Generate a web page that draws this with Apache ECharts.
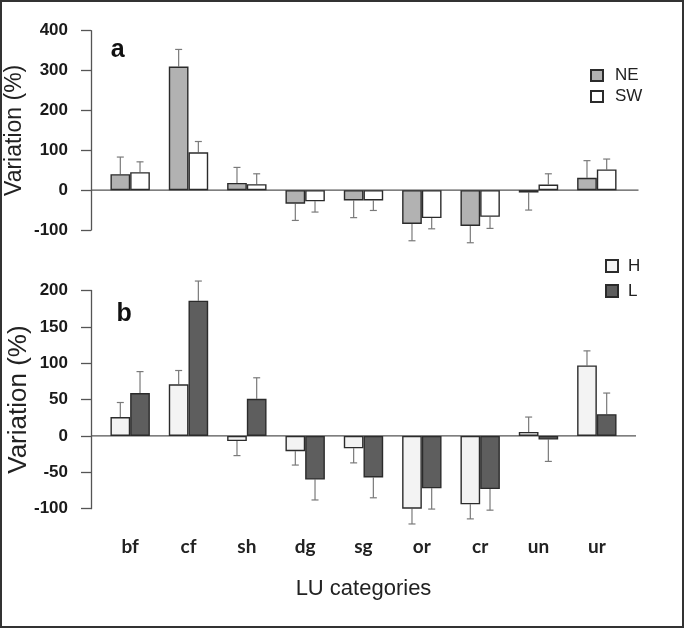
<!DOCTYPE html>
<html>
<head>
<meta charset="utf-8">
<script src="https://cdn.jsdelivr.net/npm/echarts@6/dist/echarts.min.js"></script>
<style>
html,body{margin:0;padding:0;background:#fff;}
#chart{width:685px;height:629px;}
</style>
</head>
<body>
<div id="chart"></div>
<script>
// ---- data ----
const categories = ['bf','cf','sh','dg','sg','or','cr','un','ur'];
// panel a
const neValues = [40, 310, 18, -34, -26, -85, -90, -6, 31];
const neErr    = [43, 43, 39, 42, 43, 42, 42, 44, 43];
const swValues = [45, 95, 15, -28, -26, -70, -67, 14, 52];
const swErr    = [26, 27, 26, 27, 25, 27, 29, 27, 26];
// panel b
const hValues  = [26, 71, -7, -21, -17, -100, -94, 5.5, 97];
const hErr     = [20, 19, 20, 19, 20, 21, 20, 20.5, 20];
const lValues  = [59, 186, 51, -60, -57, -72, -73, -5, 30];
const lErr     = [29.5, 27, 29, 28, 28, 28.5, 29, 30, 29];
const yTicksA = [-100, 400, 100];
const yTicksB = [-100, 200, 50];

const BAR_W = 19.7;
const FONT = "'Liberation Sans', Arial, sans-serif";

function errData(vals, errs){
  return vals.map((v,i)=>[i, v, v + (v < 0 ? -errs[i] : errs[i])]);
}
function errSeries(name, vals, errs, gridIdx, side){
  return {
    type:'custom', name: name+'_err', xAxisIndex:gridIdx, yAxisIndex:gridIdx,
    silent:true, z:1,
    data: errData(vals, errs),
    encode:{x:0, y:[1,2]},
    renderItem:function(params, api){
      const i = api.value(0);
      const p0 = api.coord([i, api.value(1)]);
      const p1 = api.coord([i, api.value(2)]);
      const x = p0[0] + side*BAR_W/2;
      const st = {stroke:'#7a7a7a', lineWidth:1.2};
      return {type:'group', children:[
        {type:'line', shape:{x1:x,y1:p0[1],x2:x,y2:p1[1]}, style:st},
        {type:'line', shape:{x1:x-3.5,y1:p1[1],x2:x+3.5,y2:p1[1]}, style:st}
      ]};
    }
  };
}
function barSeries(name, vals, gridIdx, color){
  return {
    type:'bar', name:name, xAxisIndex:gridIdx, yAxisIndex:gridIdx,
    data: vals, barWidth:BAR_W, barGap:'0%', z:2,
    itemStyle:{color:color, borderColor:'#2b2b2b', borderWidth:1.4},
    emphasis:{disabled:true}
  };
}
function yAxis(gridIdx, ticks, name, nameSize, nameGap){
  return {
    type:'value', gridIndex:gridIdx, min:ticks[0], max:ticks[1], interval:ticks[2],
    offset:10,
    axisLine:{show:true, lineStyle:{color:'#555', width:1.3}},
    axisTick:{show:true, length:10, lineStyle:{color:'#555', width:1.3}},
    splitLine:{show:false},
    axisLabel:{margin:23, fontFamily:FONT, fontWeight:'bold', fontSize:17, color:'#1a1a1a'},
    name:name, nameLocation:'middle', nameRotate:90, nameGap:nameGap, nameMoveOverlap:false,
    nameTextStyle:{fontFamily:FONT, fontSize:nameSize, color:'#222'}
  };
}

const chart = echarts.init(document.getElementById('chart'), null, {renderer:'canvas'});
const option = {
  animation:false,
  grid:[
    {left:101, width:525, top:30.7, height:199.3, containLabel:false, outerBoundsMode:'none'},
    {left:101, width:525, top:290.5, height:218.2, containLabel:false, outerBoundsMode:'none'}
  ],
  xAxis:[
    {type:'category', gridIndex:0, data:categories, axisLine:{show:false}, axisTick:{show:false}, axisLabel:{show:false}},
    {type:'category', gridIndex:1, data:categories, axisLine:{show:false, onZero:false}, axisTick:{show:false},
     axisLabel:{margin:29, fontFamily:"Lato, 'Open Sans', sans-serif", fontWeight:'bold', fontSize:19, color:'#222'},
     name:'LU categories', nameLocation:'middle', nameGap:69, nameMoveOverlap:false,
     nameTextStyle:{fontFamily:FONT, fontSize:22, color:'#222'}}
  ],
  yAxis:[
    yAxis(0, yTicksA, 'Variation (%)', 23, 65),
    yAxis(1, yTicksB, 'Variation (%)', 26, 59)
  ],
  legend:[
    {data:['NE','SW'], left:590, top:67, padding:0, orient:'vertical', itemWidth:12, itemHeight:11, itemGap:4,
     icon:'rect', selectedMode:false,
     textStyle:{fontFamily:FONT, fontSize:17, color:'#222', padding:[0,0,0,7]}},
    {data:['H','L'], left:605, top:257.5, padding:0, orient:'vertical', itemWidth:12, itemHeight:12, itemGap:8,
     icon:'rect', selectedMode:false,
     textStyle:{fontFamily:FONT, fontSize:17, color:'#222', padding:[0,0,0,5]}}
  ],
  series:[
    errSeries('NE', neValues, neErr, 0, -1),
    errSeries('SW', swValues, swErr, 0, 1),
    barSeries('NE', neValues, 0, '#b2b2b2'),
    barSeries('SW', swValues, 0, '#ffffff'),
    errSeries('H', hValues, hErr, 1, -1),
    errSeries('L', lValues, lErr, 1, 1),
    barSeries('H', hValues, 1, '#f3f3f3'),
    barSeries('L', lValues, 1, '#5e5e5e')
  ]
};
chart.setOption(option);

// zero lines (through the axis scale) + panel letters + frame
const y0a = chart.convertToPixel({yAxisIndex:0}, 0);
const y0b = chart.convertToPixel({yAxisIndex:1}, 0);
chart.setOption({
  graphic:[
    {type:'line', shape:{x1:91, y1:y0a, x2:638.5, y2:y0a}, style:{stroke:'#555', lineWidth:1.3}, z:0},
    {type:'line', shape:{x1:91, y1:y0b, x2:636, y2:y0b}, style:{stroke:'#555', lineWidth:1.3}, z:0},
    {type:'text', left:110.7, top:38, style:{text:'a', font:"bold 25px 'Liberation Sans', Arial", fill:'#111'}},
    {type:'text', left:116.5, top:302, style:{text:'b', font:"bold 25px 'Liberation Sans', Arial", fill:'#111'}},
    {type:'rect', shape:{x:1, y:1, width:682, height:626}, style:{fill:null, stroke:'#333', lineWidth:2}, z:-1}
  ]
});
</script>
</body>
</html>
